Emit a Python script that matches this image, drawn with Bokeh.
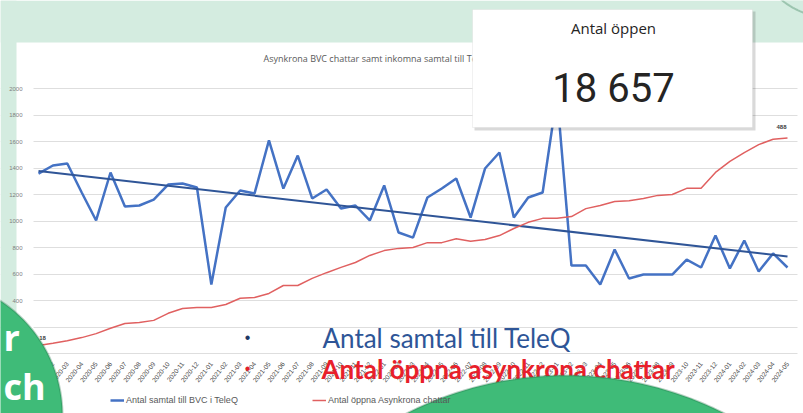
import numpy as np
from bokeh.plotting import figure
from bokeh.models import (Range1d, FixedTicker, BoxAnnotation, Label, PolyAnnotation,
                          Legend, LegendItem, LinearAxis)
from bokeh.embed import file_html
from bokeh.resources import INLINE

# ---------------- data ----------------
months = ["2020-01", "2020-02", "2020-03", "2020-04", "2020-05", "2020-06", "2020-07", "2020-08",
          "2020-09", "2020-10", "2020-11", "2020-12", "2021-01", "2021-02", "2021-03", "2021-04",
          "2021-05", "2021-06", "2021-07", "2021-08", "2021-09", "2021-10", "2021-11", "2021-12",
          "2022-01", "2022-02", "2022-03", "2022-04", "2022-05", "2022-06", "2022-07", "2022-08",
          "2022-09", "2022-10", "2022-11", "2022-12", "2023-01", "2023-02", "2023-03", "2023-04",
          "2023-05", "2023-06", "2023-07", "2023-08", "2023-09", "2023-10", "2023-11", "2023-12",
          "2024-01", "2024-02", "2024-03", "2024-04", "2024-05"]

samtal = [1358, 1419, 1434, 1215, 1004, 1366, 1109, 1117, 1162, 1275,
          1283, 1253, 521, 1102, 1230, 1208, 1608, 1245, 1494, 1170,
          1238, 1094, 1117, 1004, 1268, 913, 875, 1177, 1245, 1321,
          1026, 1396, 1517, 1026, 1177, 1215, 1950, 664, 664, 521,
          785, 566, 596, 596, 596, 709, 649, 891, 642, 853,
          619, 755, 649]

chattar = [18, 23, 29, 36, 45, 57, 68, 70, 75, 91,
           102, 104, 104, 111, 125, 127, 136, 154, 154, 170,
           183, 195, 206, 222, 233, 238, 240, 251, 251, 260,
           254, 258, 267, 283, 297, 306, 306, 310, 328, 335,
           344, 346, 351, 358, 360, 374, 374, 410, 435, 455,
           473, 485, 488]

left_ticks = [0, 200, 400, 600, 800, 1000, 1200, 1400, 1600, 1800, 2000]
left_max = 2000
right_max = 600

chart_title = "Asynkrona BVC chattar samt inkomna samtal till TeleQ"
series_names = ["Antal samtal till BVC i TeleQ", "Antal öppna Asynkrona chattar"]
kpi_title = "Antal öppen"
kpi_value = "18 657"
slide_lines = ["Antal samtal till TeleQ", "Antal öppna asynkrona chattar"]
badge_words = ["r", "ch"]

# ---------------- layout (canvas px, top-left origin) ----------------
W, H = 803, 413

AX_LEFT = 33            # left edge of the chart's plot area
X0_PX, XN_PX = 38, 787  # first / last category centre
Y0_PX, YT_PX = 353, 88  # value 0 / value left_max
GRID_RIGHT = 797

n = len(months)
kx = (XN_PX - X0_PX) / (n - 1)
ky = (Y0_PX - YT_PX) / left_max
ky_r = (Y0_PX - YT_PX) / right_max

x = list(range(n))
x_start = -X0_PX / kx
x_end = (n - 1) + (W - XN_PX) / kx
y_start = -(H - Y0_PX) / ky
y_end = left_max + YT_PX / ky

MINT = "#d4ece0"
GREEN = "#3fbb78"
DARK_GREEN = "#1c6a3e"

p = figure(width=W, height=H, output_backend="svg", toolbar_location=None,
           x_range=Range1d(x_start, x_end), y_range=Range1d(y_start, y_end),
           x_axis_location=None, y_axis_location=None,
           min_border_left=0, min_border_right=0, min_border_top=0, min_border_bottom=0,
           background_fill_color="white", border_fill_color="white",
           outline_line_color=None)
p.title.visible = False

p.extra_y_ranges = {"right": Range1d(-(H - Y0_PX) / ky_r, right_max + YT_PX / ky_r)}

yaxis = LinearAxis(ticker=FixedTicker(ticks=left_ticks), fixed_location=(AX_LEFT - X0_PX) / kx,
                   axis_line_color=None, major_tick_line_color=None, minor_tick_line_color=None,
                   major_label_text_font_size="6px", major_label_text_color="#7f7f7f",
                   major_label_standoff=5)
p.add_layout(yaxis, "left")

xaxis = LinearAxis(ticker=FixedTicker(ticks=x), fixed_location=0,
                   major_label_overrides={i: m for i, m in zip(x, months)},
                   major_label_orientation=0.9, major_label_text_font_size="6.5px",
                   major_label_text_color="#404040", major_label_standoff=3,
                   axis_line_color=None, major_tick_line_color=None, minor_tick_line_color=None)
p.add_layout(xaxis, "below")

p.xgrid.visible = False
p.ygrid.ticker = FixedTicker(ticks=left_ticks)
p.ygrid.grid_line_color = "#dedede"
p.ygrid.grid_line_width = 1


def box(l, r, t, b, **kw):
    return BoxAnnotation(left=l, right=r, top=t, bottom=b,
                         left_units="canvas", right_units="canvas",
                         top_units="canvas", bottom_units="canvas", **kw)


def lab(xp, yp, text, **kw):
    return Label(x=xp, y=yp, x_units="canvas", y_units="canvas", text=text, **kw)


# white strips limiting the grid to the plot area, slide background (all below the guides)
p.add_layout(box(0, AX_LEFT, 0, H, level="underlay", fill_color="white", fill_alpha=1,
                 line_color=None))
p.add_layout(box(GRID_RIGHT, W, 0, H, level="underlay", fill_color="white", fill_alpha=1,
                 line_color=None))
p.add_layout(box(0, W, 0, 42, level="underlay", fill_color=MINT, fill_alpha=1, line_color=None))
p.add_layout(box(0, 16, 0, H, level="underlay", fill_color=MINT, fill_alpha=1, line_color=None))

# series
r_blue = p.line(x, samtal, line_color="#4472c4", line_width=2.5)
coef = np.polyfit(x, samtal, 1)
p.line([x[0], x[-1]], [np.polyval(coef, x[0]), np.polyval(coef, x[-1])],
       line_color="#2f5597", line_width=2)
r_red = p.line(x, chattar, y_range_name="right", line_color="#e06060", line_width=1.5)
p.text(x=[x[0], x[-1]], y=[chattar[0], chattar[-1]],
       text=[str(chattar[0]), str(chattar[-1])], y_range_name="right",
       x_offset=[4, -6], y_offset=[-8, -11],
       text_font_size="6px", text_color="#404040", text_align="center",
       text_baseline="middle", text_font_style="bold")

# ---------------- slide decorations ----------------
p.add_layout(lab(263, 58, chart_title, text_font_size="9px", text_color="#595959",
                 text_baseline="middle", text_font="Open Sans"))

legend = Legend(items=[LegendItem(label=series_names[0], renderers=[r_blue]),
                       LegendItem(label=series_names[1], renderers=[r_red])],
                location=(110, 8), orientation="horizontal",
                label_text_font_size="9px", label_text_color="#595959",
                glyph_width=14, glyph_height=6, spacing=74, padding=0, margin=0,
                border_line_color=None, background_fill_alpha=0, label_standoff=2)
p.add_layout(legend)

# KPI card
p.add_layout(box(474, 755, 11, 130, fill_color="black", fill_alpha=0.15, line_color=None))
p.add_layout(box(472, 752, 9, 127, fill_color="white", fill_alpha=1,
                 line_color="#cfcfcf", line_width=1))
p.add_layout(lab(613, 27, kpi_title, text_font="Open Sans", text_font_size="15px",
                 text_color="#252423", text_align="center", text_baseline="middle"))
p.add_layout(lab(613, 88, kpi_value, text_font="Roboto", text_font_size="40px",
                 text_color="#252423", text_align="center", text_baseline="middle"))

# slide bullet text
p.add_layout(lab(247, 337, "•", text_font_size="16px", text_color="#1f3864",
                 text_align="center", text_baseline="middle"))
p.add_layout(lab(322, 337, slide_lines[0], text_font="Lato", text_font_size="26px",
                 text_color="#2e5597", text_baseline="middle"))
p.add_layout(lab(247, 368, "•", text_font_size="16px", text_color="#e0202a",
                 text_align="center", text_baseline="middle"))
p.add_layout(lab(321, 368, slide_lines[1], text_font="Lato", text_font_size="26px",
                 text_font_style="bold", text_color="#e8202a", text_baseline="middle"))


def circle_poly(ccx, ccy, r, n_pts=260):
    t = np.linspace(0, 2 * np.pi, n_pts, endpoint=False)
    return list(ccx + r * np.cos(t)), list(ccy + r * np.sin(t))


for (ccx, ccy, rr, fc) in [(565, 727, 352, GREEN), (-75, 415, 137, GREEN), (830, -60, 77, MINT)]:
    xs, ys = circle_poly(ccx, ccy, rr)
    p.add_layout(PolyAnnotation(xs=xs, ys=ys, xs_units="canvas", ys_units="canvas",
                                fill_color=fc, fill_alpha=1, line_color=DARK_GREEN, line_width=2))

p.add_layout(lab(3, 337, badge_words[0], text_font="Open Sans", text_font_size="36px",
                 text_font_style="bold", text_color="white", text_align="left",
                 text_baseline="alphabetic"))
p.add_layout(lab(3, 386, badge_words[1], text_font="Open Sans", text_font_size="36px",
                 text_font_style="bold", text_color="white", text_align="left",
                 text_baseline="alphabetic"))

open("out.html", "w").write(file_html(p, INLINE))
